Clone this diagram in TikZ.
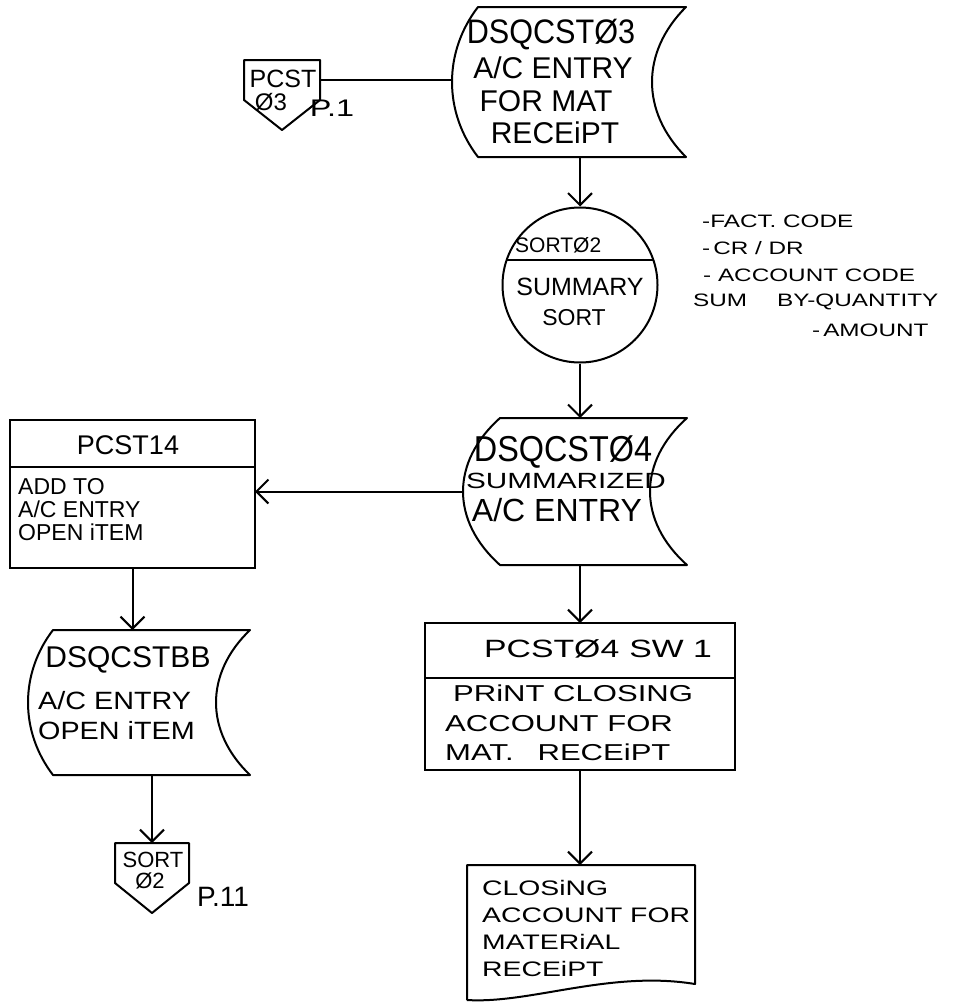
\documentclass[tikz,border=0pt]{standalone}
\usepackage{fontspec}
\setmainfont{Liberation Sans}
\newfontfamily\nar{Liberation Sans}
\newfontfamily\tal{Liberation Sans}[FakeStretch=0.9]
\newfontfamily\mdw{Liberation Sans}[FakeStretch=1.15]
\newfontfamily\wid{Liberation Sans}[FakeStretch=1.35]
\usetikzlibrary{calc,arrows.meta}
% storage outline: #1 node, #2 left bulge, #3 right concave depth
\newcommand\storeout[3]{%
  \draw[shp] ($(#1.north west)+(#2,0)$) -- (#1.north east)
    .. controls ($(#1.north east)!0.3!(#1.south east)+(-1.333*#3,0)$) and ($(#1.north east)!0.7!(#1.south east)+(-1.333*#3,0)$) .. (#1.south east)
    -- ($(#1.south west)+(#2,0)$)
    .. controls ($(#1.south west)!0.3!(#1.north west)+(-0.333*#2,0)$) and ($(#1.south west)!0.7!(#1.north west)+(-0.333*#2,0)$) .. cycle;}
\newcommand\pentout[1]{%
  \draw[shp] (#1.north west) -- (#1.north east) -- (#1.south east) -- ($(#1.south)+(0,30)$) -- (#1.south west) -- cycle;}
\begin{document}
\begin{tikzpicture}[x=1pt,y=-1pt,
  shp/.style={line width=2pt, line join=round},
  plain/.style={line width=2pt},
  con/.style={line width=2pt, -{Straight Barb[length=12pt,width=24pt]}},
  box/.style={draw=none, inner sep=0pt, outer sep=0pt, rectangle},
  rbox/.style={draw, line width=2pt, inner sep=0pt, outer sep=0pt, rectangle},
  txt/.style={inner sep=0pt, align=center},
  txl/.style={inner sep=0pt, align=left, anchor=west}]
\useasboundingbox (0,0) rectangle (969,1004);
\fill[white] (0,0) rectangle (969,1004);

% off-page connector PCST 03
\node[box, minimum width=76pt, minimum height=40pt] (c1) at (282,80) {};
\pentout{c1}
\node[txt, font=\nar\fontsize{25}{25}\selectfont] (c1a) at (283,79) {PCST};
\node[txt, font=\nar\fontsize{24}{24}\selectfont] (c1b) at (271,102) {Ø3};
\node[txt, font=\wid\fontsize{24}{24}\selectfont] (p1) at (332,108) {P.1};

% DSQCST03
\node[box, minimum width=234pt, minimum height=150pt] (d3) at (569,82) {};
\storeout{d3}{26}{34}
\node[txt, font=\tal\fontsize{34}{34}\selectfont] (d3a) at (551,35) {DSQCSTØ3};
\node[txt, font=\nar\fontsize{30}{30}\selectfont] (d3b) at (553,68) {A/C ENTRY};
\node[txt, font=\nar\fontsize{30}{30}\selectfont] (d3c) at (546,101) {FOR MAT};
\node[txt, font=\nar\fontsize{30}{30}\selectfont] (d3d) at (555,133) {RECEiPT};
\draw[plain] (c1.east) -- (c1.east -| d3.west);

% SORT02
\node[draw, circle, line width=2pt, inner sep=0pt, minimum size=155pt] (sort) at (580,285) {};
\draw[plain] ($(sort.center)+(-73.4,-25)$) -- ($(sort.center)+(73.4,-25)$);
\node[txl, font=\nar\fontsize{21}{21}\selectfont] (s1) at (515,245) {SORTØ2};
\node[txt, font=\nar\fontsize{25}{25}\selectfont] (s2) at (580,287) {SUMMARY};
\node[txt, font=\nar\fontsize{23}{23}\selectfont] (s3) at (574,318) {SORT};
\draw[con] (d3.south -| sort.north) -- (sort.north);

% notes
\node[txl, font=\wid\fontsize{18}{18}\selectfont] (n1) at (702,221) {-FACT.\ CODE};
\node[txl, font=\wid\fontsize{18}{18}\selectfont] (n2) at (702,248) {-\,CR / DR};
\node[txl, font=\wid\fontsize{18}{18}\selectfont] (n3) at (703,275) {-\ ACCOUNT CODE};
\node[txl, font=\wid\fontsize{18}{18}\selectfont] (n4) at (693,302) {SUM\hspace{30pt}BY-QUANTITY};
\node[txl, font=\wid\fontsize{18}{18}\selectfont] (n5) at (812,330) {-\,AMOUNT};

% DSQCST04
\node[box, minimum width=224pt, minimum height=147pt] (d4) at (575,491.5) {};
\storeout{d4}{37}{37}
\node[txt, font=\tal\fontsize{36}{36}\selectfont] (d4a) at (563,452) {DSQCSTØ4};
\node[txt, font=\wid\fontsize{22}{22}\selectfont] (d4b) at (566,481) {SUMMARIZED};
\node[txt, font=\nar\fontsize{32}{32}\selectfont] (d4c) at (557,510) {A/C ENTRY};
\draw[con] (sort.south) -- (sort.south |- d4.north);

% PCST14
\node[rbox, minimum width=245pt, minimum height=148pt] (p14) at (132.5,494) {};
\draw[plain] ($(p14.north west)+(0,47)$) -- ($(p14.north east)+(0,47)$);
\node[txt, font=\nar\fontsize{27}{27}\selectfont] (p14a) at (128,445) {PCST14};
\node[txl, font=\nar\fontsize{23}{23}\selectfont] (p14b) at (18,510) {ADD TO\\A/C ENTRY\\OPEN iTEM};
\draw[con] (d4.west) -- (d4.west -| p14.east);

% DSQCSTBB
\node[box, minimum width=222pt, minimum height=145pt] (bb) at (139,702.5) {};
\storeout{bb}{25}{34}
\node[txt, font=\nar\fontsize{30}{30}\selectfont] (bba) at (128,660) {DSQCSTBB};
\node[txl, font=\mdw\fontsize{25}{30}\selectfont] (bbb) at (38,716) {A/C ENTRY\\OPEN iTEM};
\draw[con] (p14.south) -- (p14.south |- bb.north);

% off-page connector SORT 02
\node[box, minimum width=74pt, minimum height=40pt] (c2) at (152,863) {};
\pentout{c2}
\node[txt, font=\nar\fontsize{22}{22}\selectfont] (c2a) at (153,860) {SORT};
\node[txt, font=\nar\fontsize{22}{22}\selectfont] (c2b) at (150,881) {Ø2};
\node[txt, font=\nar\fontsize{28}{28}\selectfont] (p11) at (223,897) {P.11};
\draw[con] (c2.north |- bb.south) -- (c2.north);

% PCST04 SW 1
\node[rbox, minimum width=310pt, minimum height=147pt] (p04) at (580,696.5) {};
\draw[plain] ($(p04.north west)+(0,55)$) -- ($(p04.north east)+(0,55)$);
\node[txt, font=\wid\fontsize{25}{25}\selectfont] (p04a) at (598,649) {PCSTØ4\hspace{10pt}SW 1};
\node[txl, font=\wid\fontsize{23}{29.5}\selectfont] (p04b) at (445,723) {\hspace{8pt}PRiNT CLOSING\\ACCOUNT FOR\\MAT.\hspace{24pt}RECEiPT};
\draw[con] (p04.north |- d4.south) -- (p04.north);

% document CLOSING ACCOUNT
\node[box, minimum width=228pt, minimum height=135pt] (doc) at (581,932.5) {};
\draw[shp] (doc.south west) -- (doc.north west) -- (doc.north east) -- ($(doc.south east)+(0,-16)$)
  .. controls ($(doc.south west)+(143,-30)$) and ($(doc.south west)+(63,4)$) .. (doc.south west);
\node[txl, font=\wid\fontsize{21}{27}\selectfont] (doct) at (482,928) {CLOSiNG\\ACCOUNT FOR\\MATERiAL\\RECEiPT};
\draw[con] (p04.south) -- (p04.south |- doc.north);
\end{tikzpicture}
\end{document}
